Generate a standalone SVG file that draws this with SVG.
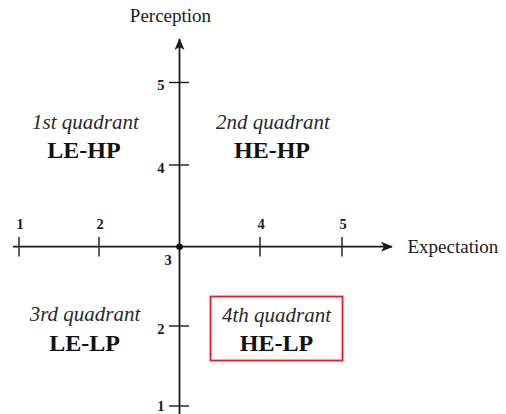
<svg xmlns="http://www.w3.org/2000/svg" width="506" height="414" viewBox="0 0 506 414">
<defs>
<marker id="arr" viewBox="0 0 12 10" refX="11" refY="5" markerWidth="12" markerHeight="10" markerUnits="userSpaceOnUse" orient="auto">
<path d="M0,0 L12,5 L0,10 L3,5 z" fill="#1a1a1a"/>
</marker>
<style>
.ax{stroke:#1a1a1a;stroke-width:1.8;fill:none}
.tk{stroke:#1a1a1a;stroke-width:1.4;fill:none}
.num{font-family:"Liberation Serif","Times New Roman",serif;font-weight:bold;font-size:14.5px;fill:#1a1a1a}
.lab{font-family:"Liberation Serif","Times New Roman",serif;font-size:19px;fill:#1a1a1a}
.q{font-family:"Liberation Serif","Times New Roman",serif;font-style:italic;font-size:21px;fill:#2a2a2a;text-anchor:middle}
.code{font-family:"Liberation Serif","Times New Roman",serif;font-weight:bold;font-size:24px;fill:#111;text-anchor:middle}
</style>
</defs>
<rect width="506" height="414" fill="#fff"/>
<g id="connectors">
<line class="ax" x1="179.5" y1="414" x2="179.5" y2="39" marker-end="url(#arr)"/>
<line class="ax" x1="13" y1="246.7" x2="392" y2="246.7" marker-end="url(#arr)"/>
<g class="tk">
<line x1="169" y1="82.5" x2="189" y2="82.5"/>
<line x1="169" y1="165" x2="189" y2="165"/>
<line x1="169" y1="326" x2="189" y2="326"/>
<line x1="169" y1="406" x2="189" y2="406"/>
<line x1="19" y1="237" x2="19" y2="256.5"/>
<line x1="99" y1="237" x2="99" y2="256.5"/>
<line x1="260" y1="237" x2="260" y2="256.5"/>
<line x1="342" y1="237" x2="342" y2="256.5"/>
</g>
<circle cx="179.5" cy="246.7" r="3.3" fill="#111"/>
</g>
<g id="axis-labels">
<text class="lab" x="170.5" y="22" text-anchor="middle">Perception</text>
<text class="lab" x="407.5" y="252.5" font-size="18.6px">Expectation</text>
</g>
<g id="ticks-labels" class="num">
<text x="164.5" y="90" text-anchor="end">5</text>
<text x="164.5" y="173" text-anchor="end">4</text>
<text x="164.5" y="333.5" text-anchor="end">2</text>
<text x="164.5" y="411" text-anchor="end">1</text>
<text x="168" y="265" text-anchor="middle">3</text>
<text x="20" y="229" text-anchor="middle">1</text>
<text x="100" y="229" text-anchor="middle">2</text>
<text x="261" y="229" text-anchor="middle">4</text>
<text x="343" y="229" text-anchor="middle">5</text>
</g>
<g id="q1">
<text class="q" x="85.5" y="129">1st quadrant</text>
<text class="code" x="84" y="157.5">LE-HP</text>
</g>
<g id="q2">
<text class="q" x="273" y="129">2nd quadrant</text>
<text class="code" x="272" y="157.5">HE-HP</text>
</g>
<g id="q3">
<text class="q" x="85" y="321">3rd quadrant</text>
<text class="code" x="84.5" y="350.5">LE-LP</text>
</g>
<g id="q4">
<rect x="210.5" y="296.5" width="132" height="64" fill="none" stroke="#e8191f" stroke-width="1.8"/>
<text class="q" x="276.5" y="321.5">4th quadrant</text>
<text class="code" x="276.5" y="350.5">HE-LP</text>
</g>
</svg>
